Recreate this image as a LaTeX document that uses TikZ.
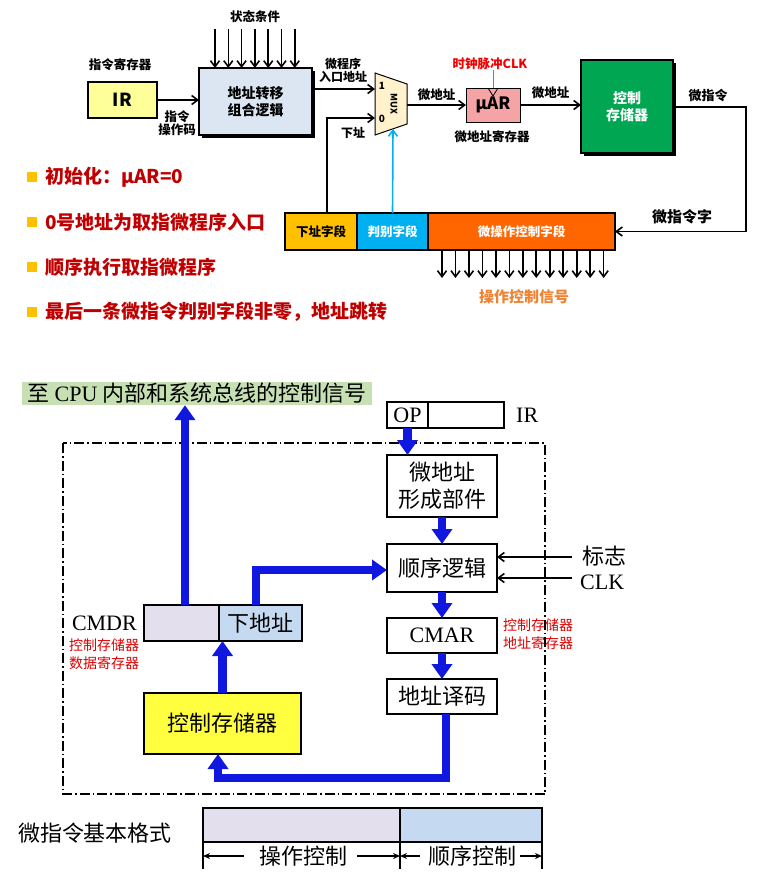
\documentclass[tikz,border=0pt]{standalone}
\usepackage{fontspec}
\setmainfont{Liberation Serif}
\newfontfamily\hei{Noto Sans CJK SC}
\usetikzlibrary{arrows.meta,calc,positioning,shadows}
\definecolor{logicblue}{RGB}{220,230,242}
\definecolor{iryellow}{RGB}{255,255,153}
\definecolor{muxcream}{RGB}{255,242,204}
\definecolor{uarpink}{RGB}{244,164,164}
\definecolor{csgreen}{RGB}{0,166,81}
\definecolor{nfgold}{RGB}{255,192,0}
\definecolor{pbcyan}{RGB}{0,176,240}
\definecolor{moorange}{RGB}{255,102,0}
\definecolor{sigorange}{RGB}{240,130,50}
\definecolor{bulletred}{RGB}{192,0,0}
\definecolor{clkred}{RGB}{240,0,0}
\definecolor{cpugreen}{RGB}{198,224,180}
\definecolor{busblue}{RGB}{16,24,224}
\definecolor{lavender}{RGB}{228,223,236}
\definecolor{paleblue}{RGB}{197,217,241}
\definecolor{memyellow}{RGB}{255,255,64}
\definecolor{notered}{RGB}{220,0,0}
\tikzset{
	lbl/.style={font=\hei\bfseries\fontsize{#1}{#1}\selectfont, inner sep=0pt, align=center},
	lbl/.default=12.5,
	song/.style={font=\hei\fontsize{#1}{#1}\selectfont, inner sep=0pt, align=center},
	song/.default=22,
	rmt/.style={font=\rmfamily\fontsize{22}{22}\selectfont, inner sep=0pt},
	rednote/.style={font=\hei\fontsize{14}{18}\selectfont, text=notered, inner sep=0pt, align=center},
	tbox/.style={draw, line width=1.2pt, inner sep=0pt, outer sep=0pt, align=center},
	shadowed/.style={drop shadow={shadow xshift=3pt, shadow yshift=-3pt, opacity=1, fill=black}},
	fld/.style={draw, line width=1.5pt, minimum height=37pt, inner sep=0pt, outer sep=0pt, lbl},
	sq/.style={fill=nfgold, minimum size=10pt, inner sep=0pt},
	sig/.style={line width=1.6pt, -{Straight Barb[length=6pt,width=9pt]}},
	bus/.style={draw=busblue, line width=8.5pt, -{Triangle[length=15pt,width=20pt]}},
	bbox/.style={draw, line width=2pt, inner sep=0pt, outer sep=0pt, align=center},
	ddframe/.style={line width=1.5pt, dash pattern=on 10pt off 3pt on 1.5pt off 3pt},
	dimarr/.style={line width=1.5pt, -{Stealth[length=7pt,width=6pt]}}
}
\begin{document}
\begin{tikzpicture}[x=1pt,y=-1pt]
	\useasboundingbox (0,0) rectangle (759,892);

	% upper part
	\node[lbl] (cond) at (255,17) {状态条件};
	\node[tbox, shadowed, fill=logicblue, minimum width=113pt, minimum height=67pt, font=\hei\bfseries\fontsize{14}{17}\selectfont] (logic) at (255.5,101.5) {地址转移\\组合逻辑};
	\foreach \i in {0,...,6}
		\draw[sig] ($(logic.north west)+(16+13.3*\i,-39)$) -- ++(0,39);

	\node[lbl] (irlbl) at (120,65) {指令寄存器};
	\node[tbox, line width=2pt, fill=iryellow, minimum width=69pt, minimum height=36pt, font=\hei\bfseries\fontsize{18}{18}\selectfont] (ir) at (122.5,100) {IR};
	\draw[sig] (ir.east) -- (ir.east -| logic.west);
	\node[lbl] (opcode) at (177,123) {指令\\[1pt]操作码};

	\node[fld, fill=nfgold, minimum width=72pt] (nf) at (321,231.5) {下址字段};
	\node[fld, fill=pbcyan, text=white, minimum width=71pt, right=0pt of nf] (pb) {判别字段};
	\node[fld, fill=moorange, text=white, minimum width=187pt, right=0pt of pb] (mo) {微操作控制字段};

	\draw[fill=muxcream, line width=1pt] (375,73) -- (407,84) -- (407,124) -- (375,135) -- cycle;
	\coordinate (mux1) at (375,89);
	\coordinate (mux0) at (375,118);
	\coordinate (muxout) at (407,105);
	\coordinate (muxsel) at (393,129);
	\node[lbl=9, rotate=-90] (muxtxt) at (394,104) {MUX};
	\node[lbl=10] (in1) at (382,86) {1};
	\node[lbl=10] (in0) at (382,119) {0};

	\draw[sig] (logic.east |- mux1) -- (mux1);
	\node[lbl=12] (entry) at (343,70) {微程序\\[1pt]入口地址};
	\draw[sig] ($(nf.north)+(6,0)$) |- (mux0);
	\node[lbl=12] (nflbl) at (353,133) {下址};
	\draw[sig, draw=pbcyan] (pb.north) -- (muxsel);

	\node[tbox, line width=1pt, fill=uarpink, minimum width=54pt, minimum height=34pt, font=\hei\bfseries\fontsize{17}{17}\selectfont] (uar) at (493,105) {μAR};
	\draw[line width=0.8pt] ($(uar.north)+(-5,0)$) -- ($(uar.north)+(0,8)$) -- ($(uar.north)+(5,0)$);
	\node[lbl, text=clkred] (clk) at (490,64) {时钟脉冲CLK};
	\draw[line width=0.8pt, draw=gray] (clk.south -| uar.north) -- (uar.north);
	\node[lbl] (uarlbl) at (492,137) {微地址寄存器};
	\draw[sig] (muxout) -- (uar.west) node[lbl, midway, above=3pt] {微地址};

	\node[tbox, shadowed, fill=csgreen, text=white, minimum width=92pt, minimum height=93pt, font=\hei\bfseries\fontsize{14}{17}\selectfont] (cs) at (627,106.5) {控制\\存储器};
	\draw[sig] (uar.east) -- (uar.east -| cs.west) node[lbl, midway, above=5pt] {微地址};
	\coordinate (cr) at (746,107);
	\draw[sig] (cs.east |- cr) -- (cr) |- (mo.east);
	\node[lbl=13] (mi) at (708,96) {微指令};
	\node[lbl=15] (miw) at (682,217) {微指令字};

	\foreach \i in {0,...,12}
		\draw[sig] ($(mo.south west)+(14+13.47*\i,0)$) -- ++(0,28);
	\node[lbl=15, text=sigorange] (ctlsig) at (524,297) {操作控制信号};

	\node[lbl=19, text=bulletred, anchor=west] (b1) at (45,177) {初始化：μAR=0};
	\node[lbl=19, text=bulletred, anchor=west] (b2) at (45,222) {0号地址为取指微程序入口};
	\node[lbl=19, text=bulletred, anchor=west] (b3) at (45,267) {顺序执行取指微程序};
	\node[lbl=19, text=bulletred, anchor=west] (b4) at (45,312) {最后一条微指令判别字段非零，地址跳转};
	\node[sq, left=8pt of b1] {};
	\node[sq, left=8pt of b2] {};
	\node[sq, left=8pt of b3] {};
	\node[sq, left=8pt of b4] {};

	% lower part
	\node[fill=cpugreen, inner sep=0pt, minimum width=350pt, minimum height=23pt, font=\fontsize{22}{22}\selectfont] (cpu) at (197,393.5) {{\hei 至} CPU {\hei 内部和系统总线的控制信号}};
	\draw[ddframe] (63,443) rectangle (545,794);

	\node[bbox, rmt, minimum width=41pt, minimum height=26pt] (op) at (407.5,415) {OP};
	\node[bbox, minimum width=76pt, minimum height=26pt, right=0pt of op] (irf) {};
	\node[rmt, right=12pt of irf] (irname) {IR};

	\node[bbox, song, minimum width=110pt, minimum height=62pt] (mf) at (442,486) {微地址\\[5pt]形成部件};
	\node[bbox, song, minimum width=110pt, minimum height=48pt] (sl) at (442,568) {顺序逻辑};
	\node[bbox, rmt, minimum width=110pt, minimum height=35pt] (cmar) at (442,635.5) {CMAR};
	\node[bbox, song, minimum width=110pt, minimum height=35pt] (dec) at (442,696.5) {地址译码};
	\node[rednote] (cmarnote) at (538,634) {控制存储器\\地址寄存器};

	\node[song, anchor=west] (flag) at (582,556) {标志};
	\node[rmt, anchor=west] (clkin) at (580,582) {CLK};
	\coordinate (fg) at (572,557);
	\coordinate (ck) at (572,578);
	\draw[sig] (fg) -- (fg -| sl.east);
	\draw[sig] (ck) -- (ck -| sl.east);

	\node[bbox, fill=lavender, minimum width=75pt, minimum height=36pt] (cmdrL) at (181.5,623) {};
	\node[bbox, song, fill=paleblue, minimum width=83pt, minimum height=36pt, right=0pt of cmdrL] (cmdrR) {下地址};
	\node[rmt, left=7pt of cmdrL] (cmdrname) {CMDR};
	\node[rednote] (cmdrnote) at (104,654.5) {控制存储器\\数据寄存器};

	\node[bbox, song, fill=memyellow, minimum width=157pt, minimum height=61pt] (mem) at (222.5,723.5) {控制存储器};

	\draw[bus] (op.south) -- (op.south |- mf.north);
	\draw[bus] (mf.south) -- (sl.north);
	\draw[bus] (sl.south) -- (cmar.north);
	\draw[bus] (cmar.south) -- (dec.north);
	\draw[bus] ($(dec.south)+(4,0)$) |- ($(mem.south)+(-4.5,24)$) -- ($(mem.south)+(-4.5,0)$);
	\draw[bus] (mem.north) -- (mem.north |- cmdrL.south);
	\coordinate (up) at ($(cmdrL.north)+(3.5,0)$);
	\draw[bus] (up) -- (up |- cpu.south);
	\draw[bus] ($(cmdrR.north)+(-4.5,0)$) |- ($(sl.west)+(0,2)$);

	\node[song] (fmtname) at (95,833) {微指令基本格式};
	\node[bbox, fill=lavender, minimum width=197pt, minimum height=34pt] (opf) at (301.5,825) {};
	\node[bbox, fill=paleblue, minimum width=142pt, minimum height=34pt, right=0pt of opf] (sqf) {};
	\draw[line width=2pt] (opf.south west) -- ++(0,27);
	\draw[line width=2pt] (opf.south east) -- ++(0,27);
	\draw[line width=2pt] (sqf.south east) -- ++(0,27);
	\node[song] (opt) at (303,856) {操作控制};
	\node[song] (sqt) at (472,856) {顺序控制};
	\draw[dimarr] ($(opt.west)+(-15,0)$) -- (opt.west -| opf.west);
	\draw[dimarr] ($(opt.east)+(10,0)$) -- (opt.east -| opf.east);
	\draw[dimarr] ($(sqt.west)+(-8,0)$) -- (sqt.west -| sqf.west);
	\draw[dimarr] ($(sqt.east)+(4,0)$) -- (sqt.east -| sqf.east);

\end{tikzpicture}
\end{document}
